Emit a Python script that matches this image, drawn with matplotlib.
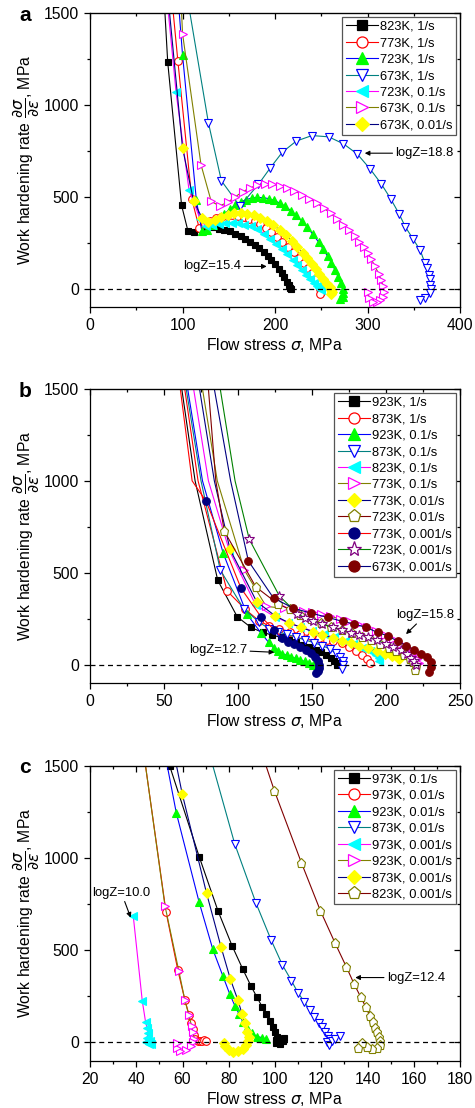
import matplotlib.pyplot as plt
from matplotlib.lines import Line2D
from matplotlib.ticker import MultipleLocator

plt.rcParams['font.family'] = ['Liberation Sans', 'DejaVu Sans']

# ---------------- panel a ----------------
# first entry of every series is a line-only point where the curve leaves the top
a823_1_x = [81, 84, 99, 106, 112, 120, 127, 133, 139, 145, 151, 157, 163, 168, 173, 178, 183, 188,
            192, 196, 200, 204, 207, 210, 213, 215, 216.5, 217]
a823_1_y = [1500, 1232, 453, 311, 308, 325, 335, 333, 326, 320, 311, 300, 287, 272, 256, 238, 219, 197,
            176, 155, 132, 108, 86, 62, 38, 20, 6, -4]
a773_1_x = [90, 95, 110, 118, 124, 130, 136, 142, 148, 154, 160, 166, 172, 178, 184, 190, 196, 202,
            208, 214, 220, 226, 231, 236, 240, 244, 247, 249, 250, 249]
a773_1_y = [1500, 1237, 489, 330, 350, 368, 382, 391, 396, 398, 396, 390, 380, 367, 350, 330, 308, 283,
            256, 228, 198, 168, 141, 110, 85, 55, 25, 0, -18, -28]
a723_1_x = [96.5, 100, 115, 121, 127, 133, 139, 145, 151, 157, 163, 169, 175, 181, 187, 193, 199, 205,
            211, 217, 223, 229, 235, 241, 247, 252, 257, 261, 265, 268, 271, 273, 274, 273, 270]
a723_1_y = [1500, 1273, 480, 311, 320, 345, 375, 405, 432, 455, 472, 485, 493, 496, 495, 490, 480, 466,
            448, 425, 398, 367, 333, 295, 254, 215, 175, 138, 100, 65, 30, 0, -25, -45, -58]
a673_1_x = [108, 128, 142, 162, 182, 195, 208, 223, 240, 258, 274, 289, 303, 315, 325, 334, 341, 349,
            357, 362, 364, 366, 367, 368, 368.5, 367, 362, 357]
a673_1_y = [1500, 902, 587, 449, 567, 658, 743, 803, 833, 826, 788, 732, 650, 569, 489, 408, 335, 272,
            208, 140, 110, 76, 50, 22, 0, -23, -51, -60]
a723_01_x = [84.7, 93, 107, 119, 125, 132, 139, 146, 153, 160, 167, 174, 181, 188, 195, 201, 207, 213,
             219, 224, 229, 234, 238, 242, 245, 248, 250]
a723_01_y = [1500, 1069, 538, 379, 340, 345, 352, 357, 358, 355, 349, 339, 326, 300, 270, 245, 218, 188,
             158, 128, 100, 72, 50, 30, 15, 3, -5]
a673_01_x = [99, 100, 120, 131, 140, 149, 157, 165, 173, 181, 189, 197, 205, 213, 221, 229, 237, 245,
             253, 260, 267, 274, 280, 286, 291, 296, 300, 304, 308, 312, 315, 317, 318, 317, 314, 310,
             306, 302, 300]
a673_01_y = [1500, 1388, 674, 475, 450, 470, 500, 527, 548, 563, 570, 568, 560, 548, 532, 512, 490, 466,
             438, 410, 380, 348, 318, 286, 255, 225, 195, 160, 122, 82, 45, 12, -20, -45, -64, -74,
             -72, -50, -20]
a673_001_x = [86, 100, 112, 121, 128, 135, 142, 149, 156, 163, 170, 177, 184, 191, 198, 205, 212, 218,
              224, 230, 235, 240, 244, 248, 252, 256, 259, 261, 262, 261]
a673_001_y = [1500, 766, 476, 386, 362, 375, 390, 402, 409, 410, 406, 398, 386, 368, 346, 320, 290, 260,
              228, 195, 165, 132, 105, 78, 52, 28, 10, -5, -18, -28]

A_LABELS = ['823K, 1/s', '773K, 1/s', '723K, 1/s', '673K, 1/s', '723K, 0.1/s', '673K, 0.1/s',
            '673K, 0.01/s']
A_X = [a823_1_x, a773_1_x, a723_1_x, a673_1_x, a723_01_x, a673_01_x, a673_001_x]
A_Y = [a823_1_y, a773_1_y, a723_1_y, a673_1_y, a723_01_y, a673_01_y, a673_001_y]
A_LEAD = [1, 1, 1, 1, 1, 1, 1]

# ---------------- panel b ----------------
b923_1_x = [62, 71, 86.3, 99.5, 108.8, 116.7, 123, 129, 134.7, 139, 143.7, 148.2, 152.7, 156, 159.5,
            162.8, 165, 166.7, 167]
b923_1_y = [1500, 1000, 459, 260, 202, 175, 161, 148, 134, 121, 108, 96, 81, 67, 52, 38, 22, 9, 0]
b873_1_x = [64, 73, 92.6, 105, 114, 121, 128, 135, 142, 149, 155, 160, 164, 170, 175, 180, 184, 187, 189]
b873_1_y = [1500, 1000, 401, 300, 240, 210, 195, 180, 167, 155, 143, 135, 130, 115, 98, 75, 50, 28, 10]
b923_01_x = [66, 76, 90, 106, 115.5, 120.7, 124, 127, 130, 133, 136, 139, 142, 145, 148, 150.4]
b923_01_y = [1500, 1000, 606, 275, 172, 121, 90, 72, 60, 50, 42, 34, 26, 17, 9, 0]
b873_01_x = [65, 75, 88, 103.8, 114.4, 121, 127, 133, 139, 145, 151, 157, 162, 166, 169, 170.7, 171, 170]
b873_01_y = [1500, 1000, 515, 304, 230, 195, 178, 165, 150, 135, 120, 103, 85, 62, 40, 20, 0, -25]
b823_01_x = [70, 80, 94, 112, 125, 134, 142, 150, 158, 165, 172, 178, 184, 189, 193, 195, 195.5]
b823_01_y = [1500, 1000, 624, 323, 260, 228, 205, 184, 165, 148, 130, 112, 92, 72, 52, 35, 20]
b773_01_x = [76, 86, 104.3, 119, 131.3, 143.6, 150, 156, 162, 169, 175, 181, 187, 193, 199, 205, 210,
             214, 218, 221, 222]
b773_01_y = [1500, 1000, 514, 317, 306, 293, 287, 278, 264, 248, 235, 220, 203, 184, 162, 139, 112, 90,
             60, 30, 8]
b773_001_x = [74, 84, 94.6, 112.6, 125, 134.7, 142.6, 150.4, 157, 164, 170, 176, 182, 188, 194, 199,
              204, 209]
b773_001_y = [1500, 1000, 627, 342, 266, 226, 203, 179, 162, 145, 130, 117, 103, 88, 73, 58, 45, 31]
b723_001_x = [80, 85, 90.7, 112, 127, 135, 142, 149, 156, 163, 170, 177, 184, 190, 196, 202, 207, 212,
              216, 218.5, 220, 219.5]
b723_001_y = [1500, 1000, 727, 423, 330, 300, 272, 248, 226, 206, 188, 170, 150, 133, 113, 93, 73, 52,
              31, 12, -10, -30]
b773_0001_x = [61, 69, 78.4, 102, 115.5, 124.5, 130, 134, 138, 142, 146, 149, 152, 154, 155, 155, 154, 153]
b773_0001_y = [1500, 1000, 890, 416, 260, 190, 143, 125, 110, 95, 80, 62, 42, 20, 0, -20, -35, -45]
b723_0001_x = [88, 98, 107.6, 127.9, 140, 145, 150.4, 157, 164, 170, 176, 182, 188, 194, 200, 205, 210,
               214, 217, 219, 220]
b723_0001_y = [1500, 1000, 682, 374, 278, 255, 239, 220, 202, 188, 174, 162, 150, 132, 112, 95, 78, 58,
               38, 18, 0]
b673_0001_x = [84, 95, 107, 124, 137.4, 149.3, 160.6, 170.7, 178.6, 186.5, 194.4, 201, 207.9, 213.5,
               219, 223.6, 227.7, 230.4, 230.4, 229.3]
b673_0001_y = [1500, 1000, 564, 362, 307, 280, 257, 235, 221, 202, 175, 157, 127, 103, 81, 58, 40, 13,
               -14, -42]

B_LABELS = ['923K, 1/s', '873K, 1/s', '923K, 0.1/s', '873K, 0.1/s', '823K, 0.1/s', '773K, 0.1/s',
            '773K, 0.01/s', '723K, 0.01/s', '773K, 0.001/s', '723K, 0.001/s', '673K, 0.001/s']
B_X = [b923_1_x, b873_1_x, b923_01_x, b873_01_x, b823_01_x, b773_01_x, b773_001_x, b723_001_x,
       b773_0001_x, b723_0001_x, b673_0001_x]
B_Y = [b923_1_y, b873_1_y, b923_01_y, b873_01_y, b823_01_y, b773_01_y, b773_001_y, b723_001_y,
       b773_0001_y, b723_0001_y, b673_0001_y]
B_LEAD = [2] * 11

# ---------------- panel c ----------------
c973_01_x = [54.5, 67.2, 75.3, 81.4, 86, 89.6, 92.2, 94.4, 96.1, 97.7, 99.1, 100.1, 100.9, 100.3, 100.5,
             102, 103.5, 104]
c973_01_y = [1497, 1007, 714, 524, 398, 305, 244, 193, 154, 116, 85, 58, 31, 10, -5, -8, 5, 22]
c973_001_x = [44, 52.9, 58, 61, 62.8, 63.8, 64.5, 65, 65.5, 66.5, 67.5, 68.5, 69.5, 70]
c973_001_y = [1500, 705, 390, 230, 150, 105, 70, 40, 20, 8, 5, 8, 10, 8]
c923_001_x = [53.4, 57.3, 67.2, 73.1, 77.4, 80.4, 82.6, 84.5, 86, 87.9, 90, 92.2, 94.4, 96.1]
c923_001_y = [1500, 1245, 759, 504, 361, 262, 199, 152, 112, 76, 49, 31, 25, 18]
c873_001_x = [73.1, 82.6, 91.8, 98.3, 103.2, 107.1, 109.9, 112.7, 115, 117, 118.8, 120.3, 121.7, 122.9,
              123.9, 122.4, 123.2, 124.5, 126, 127.9]
c873_001_y = [1500, 1075, 754, 555, 419, 334, 269, 219, 175, 139, 107, 81, 58, 36, 18, 4, -15, 5, 20, 36]
c973_0001_x = [38.7, 42.6, 44, 44.7, 45.2, 44.6, 44, 45.5, 46.5, 46]
c973_0001_y = [685, 224, 112, 76, 49, 25, 0, -8, -12, 5]
c923_0001_x = [44, 52.4, 58.4, 61, 62.7, 63.9, 64.5, 65, 64.5, 63.5, 61.3, 59.1, 57.7, 57.7]
c923_0001_y = [1500, 741, 387, 230, 148, 90, 58, 20, 4, -23, -42, -45, -33, -5]
c873_0001_x = [57.4, 59.9, 70.4, 76.7, 80.7, 83.9, 85.8, 86.9, 87.9, 88.6, 88.3, 87.5, 86, 84, 82, 80,
               78.5, 78]
c873_0001_y = [1500, 1346, 808, 515, 342, 230, 152, 103, 58, 31, 8, -15, -35, -48, -52, -42, -22, -2]
c823_0001_x = [96.1, 99.7, 111.4, 119.6, 126, 130.8, 134.2, 137.1, 139.3, 140.9, 142.2, 143.3, 144.3, 145,
               145.5, 145.2, 144, 141.9, 139.7, 137.6, 135.7]
c823_0001_y = [1500, 1365, 974, 714, 537, 410, 316, 244, 190, 145, 108, 80, 54, 31, 7, -14, -33, -38,
               -27, -5, -33]

C_LABELS = ['973K, 0.1/s', '973K, 0.01/s', '923K, 0.01/s', '873K, 0.01/s', '973K, 0.001/s',
            '923K, 0.001/s', '873K, 0.001/s', '823K, 0.001/s']
C_X = [c973_01_x, c973_001_x, c923_001_x, c873_001_x, c973_0001_x, c923_0001_x, c873_0001_x, c823_0001_x]
C_Y = [c973_01_y, c973_001_y, c923_001_y, c873_001_y, c973_0001_y, c923_0001_y, c873_0001_y, c823_0001_y]
C_LEAD = [0, 1, 1, 1, 0, 1, 1, 1]

# styles: (marker, marker colour, filled, line colour)
A_STYLE = [('s', 'black', True, 'black'), ('o', 'red', False, 'red'), ('^', '#00ff00', True, 'blue'),
           ('v', 'blue', False, '#008080'), ('<', 'cyan', True, 'magenta'),
           ('>', 'magenta', False, '#808000'), ('D', 'yellow', True, '#000080')]
B_STYLE = [('s', 'black', True, 'black'), ('o', 'red', False, 'red'), ('^', '#00ff00', True, 'blue'),
           ('v', 'blue', False, '#008080'), ('<', 'cyan', True, 'magenta'),
           ('>', 'magenta', False, '#808000'), ('D', 'yellow', True, '#000080'),
           ('p', '#808000', False, '#800000'), ('o', '#000080', True, 'red'),
           ('*', '#800080', False, '#008000'), ('o', '#800000', True, '#000080')]
C_STYLE = [('s', 'black', True, 'black'), ('o', 'red', False, 'red'), ('^', '#00ff00', True, 'blue'),
           ('v', 'blue', False, '#008080'), ('<', 'cyan', True, 'magenta'),
           ('>', 'magenta', False, '#808000'), ('D', 'yellow', True, '#000080'),
           ('p', '#808000', False, '#800000')]

MS = {'s': 5, 'o': 5.5, '^': 6, 'v': 6, '<': 6, '>': 6, 'D': 5, 'p': 6.5, '*': 7.5}


def panel(rect, xs, ys, leads, labels, styles, xlim, xmajor, xminor, letter):
    ax = fig.add_axes(rect)
    handles = []
    for x, y, lead, lab, (mk, mc, filled, lc) in zip(xs, ys, leads, labels, styles):
        face = mc if filled else 'white'
        ax.plot(x, y, color=lc, lw=0.8)
        ax.plot(x[lead:], y[lead:], ls='none', marker=mk, ms=MS[mk], mfc=face, mec=mc, mew=0.8)
        handles.append(Line2D([], [], color=lc, lw=0.8, marker=mk, ms=MS[mk] * 1.45, mfc=face,
                              mec=mc, mew=0.9))
    ax.axhline(0, color='black', lw=0.9, ls=(0, (4, 3)))
    ax.set_xlim(*xlim)
    ax.set_ylim(-100, 1500)
    ax.xaxis.set_major_locator(MultipleLocator(xmajor))
    ax.xaxis.set_minor_locator(MultipleLocator(xminor))
    ax.yaxis.set_major_locator(MultipleLocator(500))
    ax.yaxis.set_minor_locator(MultipleLocator(250))
    ax.tick_params(which='both', direction='out', labelsize=11.3, width=0.9)
    ax.tick_params(which='major', length=4.5)
    ax.tick_params(which='minor', length=2.5)
    top = ax.secondary_xaxis('top')
    top.xaxis.set_major_locator(MultipleLocator(xmajor))
    top.xaxis.set_minor_locator(MultipleLocator(xminor))
    top.tick_params(which='both', direction='in', labeltop=False, width=0.9)
    top.tick_params(which='major', length=4.5)
    top.tick_params(which='minor', length=2.5)
    right = ax.secondary_yaxis('right')
    right.yaxis.set_major_locator(MultipleLocator(500))
    right.yaxis.set_minor_locator(MultipleLocator(250))
    right.tick_params(which='both', direction='in', labelright=False, width=0.9)
    right.tick_params(which='major', length=4.5)
    right.tick_params(which='minor', length=2.5)
    for s in ax.spines.values():
        s.set_linewidth(0.9)
    ax.set_xlabel(r'Flow stress $\sigma$, MPa', fontsize=11.3, labelpad=2)
    ax.set_ylabel(r'Work hardening rate $\dfrac{\partial\sigma}{\partial\varepsilon}$, MPa',
                  fontsize=11.3, labelpad=2)
    leg = ax.legend(handles, labels, loc='upper right', fontsize=9.3, numpoints=1, handlelength=2.5,
                    handletextpad=0.15, labelspacing=0.34, borderpad=0.3, borderaxespad=0.3,
                    fancybox=False, framealpha=1, edgecolor='#555555')
    leg.get_frame().set_linewidth(0.9)
    fig.text(0.053, rect[1] + rect[3] - 0.002, letter, fontsize=15, fontweight='bold',
             va='center', ha='center')
    return ax


fig = plt.figure(figsize=(4.75, 11.08), dpi=100)

ax_a = panel([0.1895, 0.7229, 0.779, 0.2654], A_X, A_Y, A_LEAD, A_LABELS, A_STYLE, (0, 400), 100, 50, 'a')
ax_b = panel([0.1895, 0.3836, 0.779, 0.2653], B_X, B_Y, B_LEAD, B_LABELS, B_STYLE, (0, 250), 50, 25, 'b')
ax_c = panel([0.1895, 0.0427, 0.779, 0.2662], C_X, C_Y, C_LEAD, C_LABELS, C_STYLE, (20, 180), 20, 10, 'c')

arrow = dict(arrowstyle='-|>', color='black', lw=0.8, mutation_scale=7, shrinkA=0, shrinkB=0)
ax_a.annotate('logZ=18.8', xy=(297, 737), xytext=(330, 737), fontsize=9.4, va='center', arrowprops=arrow)
ax_a.annotate('logZ=15.4', xy=(191, 121), xytext=(101, 121), fontsize=9.4, va='center', arrowprops=arrow)
ax_b.annotate('logZ=15.8', xy=(213.5, 166), xytext=(207, 269), fontsize=9.4, va='center', arrowprops=arrow)
ax_b.annotate('logZ=12.7', xy=(124.5, 67), xytext=(67, 81), fontsize=9.4, va='center', arrowprops=arrow)
ax_c.annotate('logZ=10.0', xy=(37.6, 676), xytext=(21, 811), fontsize=9.4, va='center', arrowprops=arrow)
ax_c.annotate('logZ=12.4', xy=(134.7, 351), xytext=(148.3, 351), fontsize=9.4, va='center', arrowprops=arrow)

fig.savefig('out.png', dpi=100)
